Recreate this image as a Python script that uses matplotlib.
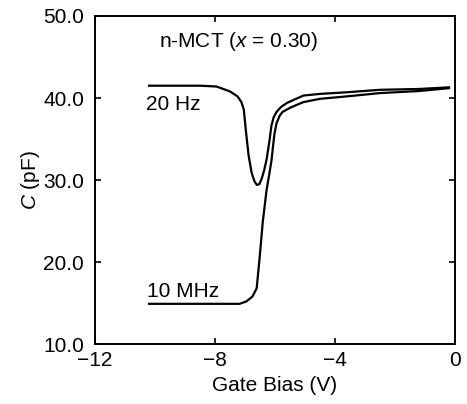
import matplotlib
matplotlib.use("Agg")
import matplotlib.pyplot as plt

plt.rcParams['font.family'] = ['Liberation Sans', 'DejaVu Sans']
plt.rcParams['mathtext.fontset'] = 'custom'
plt.rcParams['mathtext.it'] = 'Liberation Sans:italic'
plt.rcParams['mathtext.rm'] = 'Liberation Sans'

# 20 Hz curve (gate bias V, capacitance pF)
v_20hz = [-10.2, -9.5, -8.5, -7.95, -7.5, -7.25, -7.12, -7.04, -6.97, -6.88, -6.78,
          -6.68, -6.6, -6.52, -6.44, -6.36, -6.28, -6.18, -6.12, -6.05, -5.95, -5.8,
          -5.6, -5.3, -5.05, -4.5, -3.6, -2.5, -1.2, -0.2]
c_20hz = [41.5, 41.5, 41.5, 41.4, 40.8, 40.2, 39.5, 38.6, 36.0, 33.0, 30.9,
          29.8, 29.4, 29.5, 30.2, 31.2, 32.5, 34.9, 36.6, 37.6, 38.3, 38.9,
          39.4, 39.9, 40.3, 40.5, 40.7, 41.0, 41.1, 41.3]

# 10 MHz curve
v_10mhz = [-10.2, -9.0, -8.0, -7.18, -6.95, -6.75, -6.61, -6.51, -6.41, -6.28, -6.2,
           -6.12, -6.02, -5.95, -5.85, -5.75, -5.5, -5.25, -5.05, -4.5, -3.6, -2.5,
           -1.2, -0.2]
c_10mhz = [14.9, 14.9, 14.9, 14.9, 15.2, 15.8, 16.8, 20.6, 24.8, 28.8, 30.5,
           32.3, 35.6, 36.9, 37.8, 38.3, 38.8, 39.2, 39.5, 39.9, 40.2, 40.6,
           40.85, 41.2]

x_ticks = [-12, -8, -4, 0]
x_ticklabels = ['\u221212', '\u22128', '\u22124', '0']
y_ticks = [10, 20, 30, 40, 50]
y_ticklabels = ['10.0', '20.0', '30.0', '40.0', '50.0']

fig = plt.figure(figsize=(4.67, 4.04), dpi=100)
ax = fig.add_axes([0.2034, 0.1485, 0.7709, 0.8119])

ax.plot(v_20hz, c_20hz, color='black', lw=1.6)
ax.plot(v_10mhz, c_10mhz, color='black', lw=1.6)

ax.set_xlim(-12, 0)
ax.set_ylim(10, 50)
ax.set_xticks(x_ticks)
ax.set_xticklabels(x_ticklabels)
ax.set_yticks(y_ticks)
ax.set_yticklabels(y_ticklabels)

fs = 15
ax.tick_params(direction='in', length=4, width=1.2, top=True, right=True,
               labelsize=fs)
ax.tick_params(axis='x', pad=5)
ax.tick_params(axis='y', pad=8)
for s in ax.spines.values():
    s.set_linewidth(1.4)

ax.set_xlabel('Gate Bias (V)', fontsize=fs, labelpad=4)
ax.set_ylabel('$C$ (pF)', fontsize=fs, labelpad=1)

ax.text(-7.21, 46.95, 'n-MCT ($x$ = 0.30)', fontsize=fs, ha='center', va='center')
ax.text(-10.3, 39.2, '20 Hz', fontsize=fs, ha='left', va='center')
ax.text(-10.27, 16.4, '10 MHz', fontsize=fs, ha='left', va='center')

fig.savefig('out.png', dpi=100)
